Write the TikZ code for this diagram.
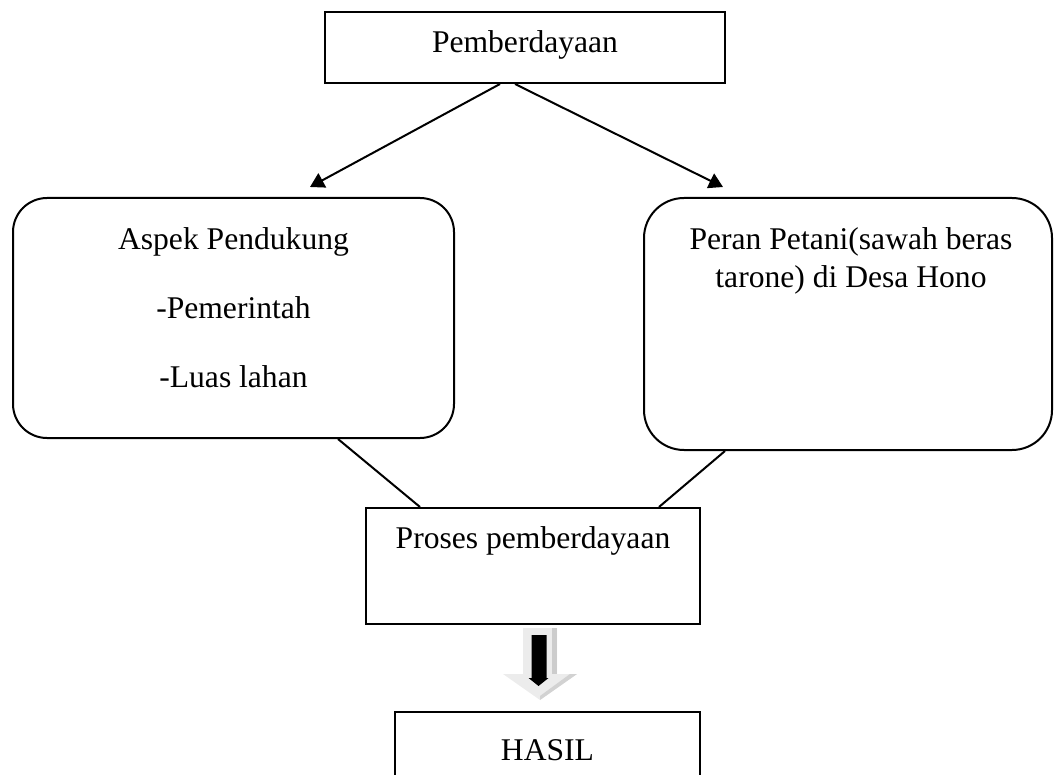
\documentclass[tikz,border=0pt]{standalone}
\usepackage{fontspec}
\setmainfont{Liberation Serif}
\usetikzlibrary{shapes,arrows.meta}
\tikzstyle{block} = [rectangle, draw, line width=2pt, inner sep=0pt,
    text centered, text height=21pt]
\tikzstyle{roundblock} = [block, rounded corners=34pt]
\tikzstyle{line} = [draw, line width=2pt, -{Triangle[length=14pt,width=16pt]}]
\tikzstyle{link} = [draw, line width=2pt]

\begin{document}
\begin{tikzpicture}[x=1pt, y=-1pt, font=\fontsize{31.6}{38}\selectfont]
	\useasboundingbox (0,0) rectangle (1054,775);
	\clip (0,0) rectangle (1054,775);

		\node [block, minimum width=400pt, minimum height=71pt, text depth=10pt] (top) at (525,47.5) {Pemberdayaan};

		\node [roundblock, minimum width=441pt, minimum height=240pt] (support) at (233.5,318) {};
		\node [anchor=base, align=center] (supporttext) at (233.5,387) {Aspek Pendukung\\[31pt]-Pemerintah\\[31pt]-Luas lahan};

		\node [roundblock, rounded corners=40pt, minimum width=408pt, minimum height=252pt] (role) at (848,324) {};
		\node [anchor=base, align=center] (roletext) at (851,288) {Peran Petani(sawah beras\\tarone) di Desa Hono};

		\node [block, minimum width=334pt, minimum height=116pt, text depth=57pt] (proses) at (533,566) {Proses pemberdayaan};
		\node [block, minimum width=305pt, minimum height=88pt, text depth=13pt] (hasil) at (547.5,756) {HASIL};

		\path [line] ([xshift=-25pt]top.south) -- ([xshift=76.5pt,yshift=10pt]support.north);
		\path [line] ([xshift=-10pt]top.south) -- ([xshift=-125pt,yshift=10pt]role.north);

		\path [link] ([xshift=104.5pt]support.south) -- ([xshift=-113pt]proses.north);
		\path [link] ([xshift=-123pt]role.south) -- ([xshift=126pt]proses.north);

		% block arrow
		\fill [gray!15] (523,628) -- (557,628) -- (557,674) -- (577,674) -- (540,700) -- (503,674) -- (523,674) -- cycle;
		\fill [gray!40] (552,628) -- (557,628) -- (557,674) -- (552,674) -- cycle;
		\fill [gray!35] (577,674) -- (540,700) -- (540,696) -- (570,674) -- cycle;
		\fill [black] (531.5,635) -- (546.5,635) -- (546.5,678) -- (548.5,678) -- (538.5,686) -- (528.5,678) -- (531.5,678) -- cycle;
	\end{tikzpicture}
\end{document}
